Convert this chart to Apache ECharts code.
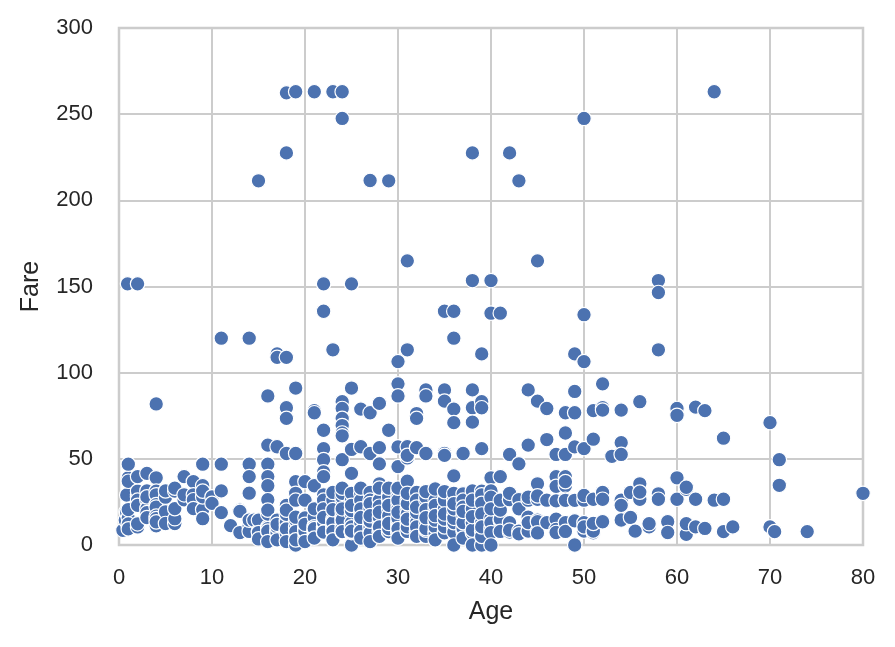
<!DOCTYPE html>
<html>
<head>
<meta charset="utf-8">
<script src="https://cdn.jsdelivr.net/npm/echarts@6/dist/echarts.min.js"></script>
<style>
html,body{margin:0;padding:0;background:#fff;}
#chart{width:895px;height:647px;}
</style>
</head>
<body>
<div id="chart"></div>
<script>
// Tick labels
var xTicks = [0, 10, 20, 30, 40, 50, 60, 70, 80];
var yTicks = [0, 50, 100, 150, 200, 250, 300];

// [Age, Fare], grouped by age decade
var age0s = [[0.42,8.52],[0.67,14.5],[0.75,19.26],[0.83,29],[0.83,18.75],[0.92,151.55],[1,11.13],[1,15.74],[1,20.58],[1,39],[1,37],[1,46.9],[1,12.18],[1,9.35],[2,151.55],[2,10.46],[2,12.29],[2,27.9],[2,29.13],[2,31.28],[2,39.69],[2,26],[2,23],[3,41.58],[3,26],[3,31.39],[3,21.08],[3,18.75],[3,15.9],[3,27.9],[4,81.86],[4,39],[4,31.27],[4,29.13],[4,23.45],[4,22.03],[4,11.13],[4,16.7],[4,15.25],[4,13.42],[5,27.75],[5,19.26],[5,12.48],[5,31.39],[6,31.28],[6,33],[6,12.48],[6,15.25],[6,21.08],[7,39.69],[7,26.25],[7,29.13],[8,36.75],[8,29.13],[8,26.25],[8,21.08],[9,46.9],[9,31.39],[9,20.53],[9,15.25],[9,34.38],[9,27.9],[9,31.28]];
var age10s = [[10,27.9],[10,24.15],[11,120],[11,46.9],[11,31.4],[11,18.79],[12,11.24],[13,20.25],[13,7.23],[13,19.5],[14,120],[14,46.9],[14,39.69],[14,30.07],[14,11.24],[14,7.85],[14,14.45],[14.5,14.45],[15,211.34],[15,8.03],[15,14.45],[15,7.23],[15,3.5],[16,86.5],[16,57.98],[16,46.9],[16,39.69],[16,34.38],[16,26.25],[16,10.5],[16,7.75],[16,9.5],[16,18],[16,8.05],[16,20.25],[16,2],[17,110.88],[17,108.9],[17,57],[17,14.45],[17,8.66],[17,7.23],[17,7.05],[17,10.5],[17,12],[17,3],[18,262.38],[18,227.53],[18,108.9],[18,79.65],[18,73.5],[18,53.1],[18,23],[18,14.45],[18,8.05],[18,7.75],[18,11.5],[18,6.5],[18,13],[18,9.35],[18,17.8],[18,20.21],[18,2],[19,263],[19,91.08],[19,53.1],[19,36.75],[19,30],[19,8.05],[19,7.88],[19,0],[19,10.5],[19,6.75],[19,26],[19,14.45],[19,16.1],[19,7.78],[19,3]];
var age20s = [[20,7.92],[20,9.5],[20,15.74],[20,9.85],[20,7.85],[20,4.01],[20,7.05],[20,9.22],[20,8.05],[20,36.75],[20,26],[20,2],[20,12],[21,263],[21,77.96],[21,76.73],[21,34.38],[21,7.8],[21,8.66],[21,11.5],[21,16.1],[21,10.5],[21,6.5],[21,8.43],[21,9.5],[21,21],[21,4],[22,151.55],[22,135.63],[22,66.6],[22,55.9],[22,49.5],[22,42.4],[22,29],[22,7.25],[22,7.8],[22,9.35],[22,10.5],[22,8.05],[22,13],[22,7.52],[22,39.69],[22,26],[22,21],[22,16],[23,263],[23,113.28],[23,15.05],[23,13.79],[23,10.5],[23,7.85],[23,7.55],[23,9.22],[23,13],[23,7.9],[23,26],[23,20.5],[23,30.5],[23,3],[24,263],[24,247.52],[24,83.16],[24,79.2],[24,73.5],[24,69.3],[24,65],[24,63.36],[24,49.5],[24,26],[24,16.7],[24,13],[24,7.5],[24,8.05],[24,27.72],[24,15.85],[24,19.26],[24,10.5],[24,14.5],[24,7.78],[24,30],[24,21],[24,33],[25,151.55],[25,91.08],[25,55.44],[25,41.58],[25,7.65],[25,26],[25,7.05],[25,0],[25,17.8],[25,13],[25,7.23],[25,7.78],[25,10.5],[25,30],[25,8.05],[25,20],[25,23],[26,78.85],[26,57],[26,7.78],[26,8.66],[26,26],[26,30],[26,18.79],[26,14.45],[26,7.89],[26,13],[26,25.93],[26,8.05],[26,21],[26,33],[26,4],[26,16],[27,211.5],[27,76.73],[27,53.1],[27,13],[27,11.13],[27,21],[27,7.79],[27,10.5],[27,30.5],[27,6.97],[27,13.86],[27,26],[27,24],[27,2],[27,17],[28,82.17],[28,56.5],[28,47.1],[28,35.5],[28,13],[28,7.9],[28,26.55],[28,9.5],[28,26],[28,7.25],[28,15.85],[28,10.5],[28,22.5],[28,33],[28,19],[28,5],[29,211.34],[29,66.6],[29,7.9],[29,26],[29,10.46],[29,7.75],[29,21],[29,30],[29,9.48],[29,27.72],[29,15.25],[29,17],[29,33],[29,23],[29,12.5]];
var age30s = [[30,106.43],[30,93.5],[30,86.5],[30,56.93],[30,31],[30,8.66],[30,24.15],[30,7.23],[30,13],[30,16.1],[30,12.47],[30,7.9],[30,27.75],[30,10.5],[30,8.05],[30,21],[30,26],[30,45.5],[30,15.55],[30,9.5],[30,19],[30,33],[30,4],[31,164.87],[31,113.28],[31,57],[31,50.5],[31,37],[31,52],[31,7.78],[31,20.53],[31,7.85],[31,13],[31,18],[31,26.25],[31,10.5],[31,24],[31,30],[31,15],[32,76.29],[32,73.5],[32,56.5],[32,30.5],[32,7.92],[32,15.85],[32,7.75],[32,8.05],[32,13],[32,26],[32,10.5],[32,19],[32,22],[32,5],[33,90],[33,86.5],[33,53.1],[33,12.28],[33,7.9],[33,5],[33,8.65],[33,26],[33,27.72],[33,9.5],[33,20.53],[33,15.85],[33,31],[34,26],[34,13],[34,8.05],[34,6.5],[34,21],[34,10.5],[34,32.5],[34,23],[34,14.4],[34,17],[34,3],[35,135.63],[35,90],[35,83.48],[35,53.1],[35,52],[35,26.29],[35,8.05],[35,7.05],[35,21],[35,26],[35,10.5],[35,15],[35,31],[35,18],[36,135.63],[36,120],[36,78.85],[36,71],[36,40.13],[36,26.39],[36,12.88],[36,10.5],[36,7.5],[36,26],[36,17.4],[36,13],[36,0],[36,15.5],[36,21],[36,30],[36,24],[37,53.1],[37,29.7],[37,26],[37,7.93],[37,9.59],[37,17],[37,22],[37,4],[37,13],[37,19.5],[38,227.53],[38,153.46],[38,90],[38,79.65],[38,71.28],[38,31.39],[38,7.9],[38,7.05],[38,13],[38,0],[38,8.66],[38,21],[38,26],[38,16.5],[39,110.88],[39,83.16],[39,79.65],[39,55.9],[39,31.28],[39,26],[39,29.13],[39,13],[39,7.93],[39,0],[39,24.15],[39,18],[39,5],[39,10.5]];
var age40s = [[40,153.46],[40,134.5],[40,39],[40,31.39],[40,27.72],[40,15.5],[40,9.48],[40,13],[40,7.23],[40,0],[40,21],[41,134.5],[41,39.69],[41,14.11],[41,15.05],[41,20.21],[41,7.85],[41,26],[42,227.53],[42,52.55],[42,26.55],[42,13],[42,7.55],[42,8.66],[42,26.29],[42,30],[43,211.34],[43,47.1],[43,26.25],[43,8.05],[43,6.45],[43,21],[44,90],[44,57.98],[44,26],[44,16.1],[44,27.72],[44,7.93],[44,8.05],[44,13],[45,164.87],[45,83.48],[45,35.5],[45,26.55],[45,14.45],[45,8.05],[45,13.5],[45,6.98],[45,28.5],[46,79.2],[46,61.18],[46,26],[46,13],[47,52.55],[47,39.6],[47,34.02],[47,15],[47,9],[47,7.25],[47,25.59],[48,76.73],[48,65],[48,52.55],[48,39.6],[48,34.38],[48,26.55],[48,13],[48,7.85],[48,25.93],[48,36.75],[49,110.88],[49,89.1],[49,76.73],[49,56.93],[49,26],[49,0],[49,25.93],[49,14]];
var age50s = [[50,247.52],[50,133.65],[50,106.43],[50,55.9],[50,26],[50,13],[50,8.05],[50,10.5],[50,28.71],[51,77.96],[51,61.38],[51,7.05],[51,8.05],[51,26.55],[51,12.53],[52,93.5],[52,79.65],[52,78.27],[52,30.5],[52,13.5],[52,26.55],[53,51.48],[54,78.27],[54,59.4],[54,52.55],[54,26],[54,23],[54,14.5],[55,30.5],[55,16],[55.5,8.05],[56,83.16],[56,35.5],[56,26.55],[56,30.7],[57,10.5],[57,12.35],[58,153.46],[58,146.52],[58,113.28],[58,29.7],[58,26.55],[59,13.5],[59,7.25]];
var age60plus = [[60,79.2],[60,75.25],[60,39],[60,26.55],[61,32.32],[61,33.5],[61,6.24],[61,12.35],[62,80],[62,26.55],[62,10.5],[63,77.96],[63,9.59],[64,263],[64,26],[65,61.98],[65,26.55],[65,7.75],[66,10.5],[70,71],[70,10.5],[70.5,7.75],[71,49.5],[71,34.65],[74,7.78],[80,30]];

var points = [].concat(age0s, age10s, age20s, age30s, age40s, age50s, age60plus);

var chart = echarts.init(document.getElementById('chart'), null, {renderer: 'canvas'});
var font = '"Liberation Sans", Arial, sans-serif';
var txt = '#262626';
chart.setOption({
  animation: false,
  backgroundColor: '#ffffff',
  grid: {left: 119, right: 32, top: 28, bottom: 102, show: true, borderColor: '#cccccc', borderWidth: 2.5, containLabel: false},
  xAxis: {
    type: 'value', min: xTicks[0], max: xTicks[xTicks.length - 1], interval: xTicks[1] - xTicks[0],
    name: 'Age', nameLocation: 'middle', nameGap: 55,
    nameTextStyle: {fontSize: 25, color: txt, fontFamily: font},
    axisLine: {show: false}, axisTick: {show: false},
    axisLabel: {fontSize: 22, color: txt, fontFamily: font, margin: 22},
    splitLine: {show: true, lineStyle: {color: '#cccccc', width: 2}}
  },
  yAxis: {
    type: 'value', min: yTicks[0], max: yTicks[yTicks.length - 1], interval: yTicks[1] - yTicks[0],
    name: 'Fare', nameLocation: 'middle', nameGap: 75,
    nameTextStyle: {fontSize: 25, color: txt, fontFamily: font},
    axisLine: {show: false}, axisTick: {show: false},
    axisLabel: {fontSize: 22, color: txt, fontFamily: font, margin: 26},
    splitLine: {show: true, lineStyle: {color: '#cccccc', width: 2}}
  },
  series: [{
    type: 'scatter',
    data: points,
    symbol: 'circle',
    symbolSize: 14.5,
    itemStyle: {color: '#4c72b0', borderColor: '#ffffff', borderWidth: 1.2, opacity: 1}
  }]
});
</script>
</body>
</html>
